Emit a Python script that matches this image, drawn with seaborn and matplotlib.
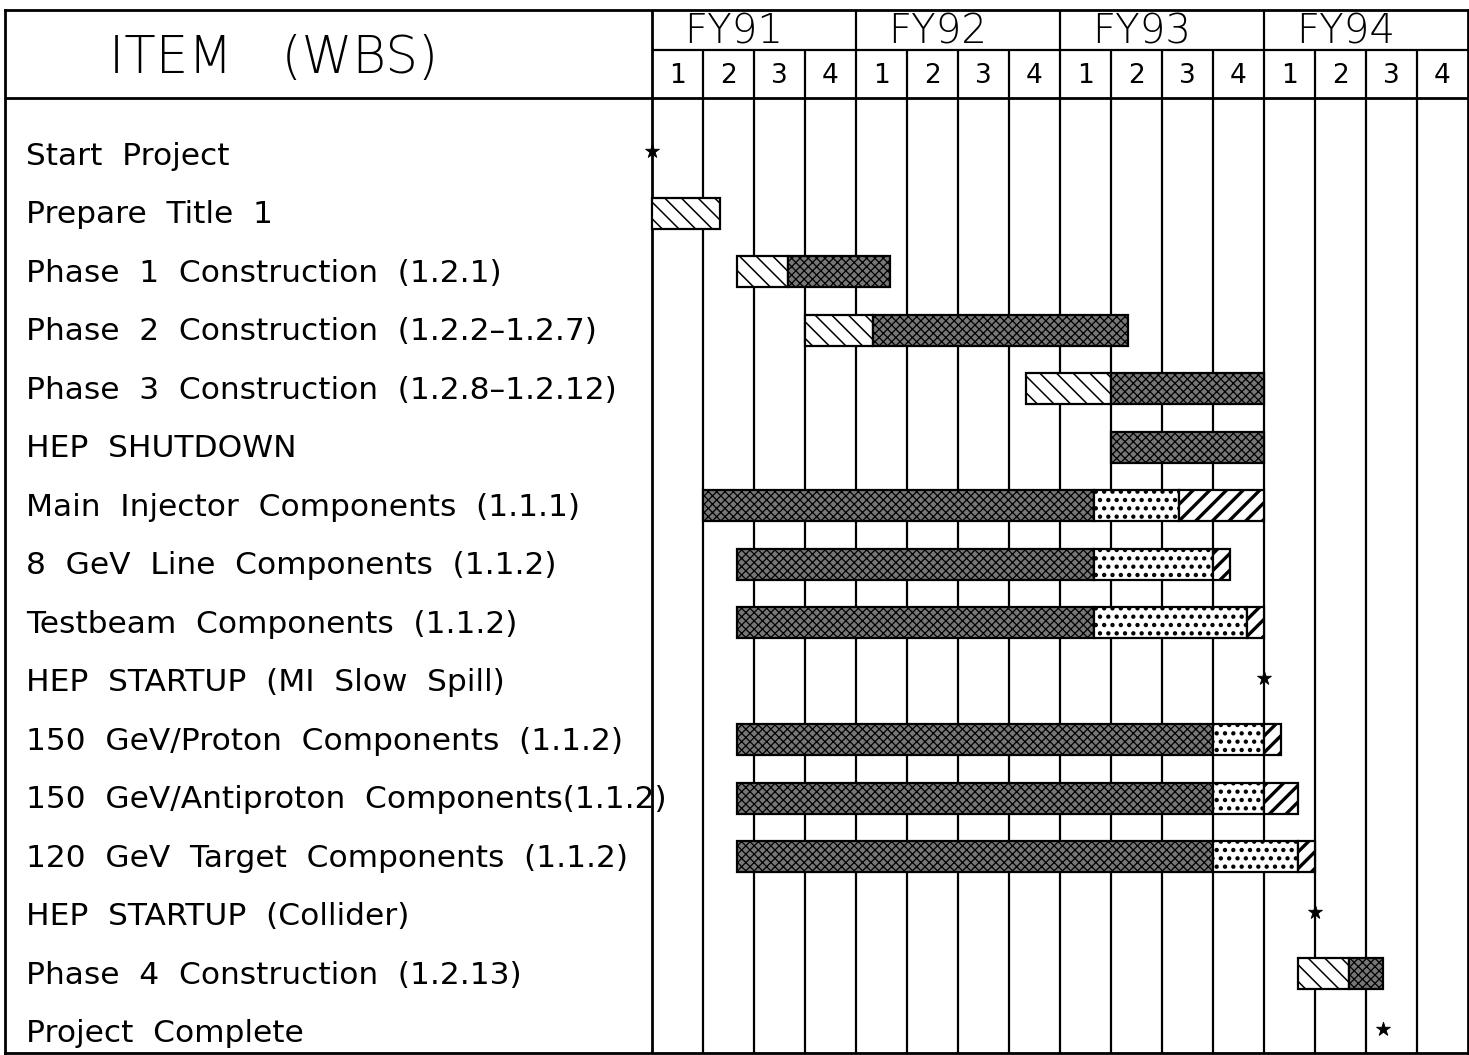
import numpy as np
import pandas as pd
import matplotlib
matplotlib.use("Agg")
import matplotlib.pyplot as plt
import seaborn as sns

# ---------------- data ----------------
items = [
    "Start  Project",
    "Prepare  Title  1",
    "Phase  1  Construction  (1.2.1)",
    "Phase  2  Construction  (1.2.2\u20131.2.7)",
    "Phase  3  Construction  (1.2.8\u20131.2.12)",
    "HEP  SHUTDOWN",
    "Main  Injector  Components  (1.1.1)",
    "8  GeV  Line  Components  (1.1.2)",
    "Testbeam  Components  (1.1.2)",
    "HEP  STARTUP  (MI  Slow  Spill)",
    "150  GeV/Proton  Components  (1.1.2)",
    "150  GeV/Antiproton  Components(1.1.2)",
    "120  GeV  Target  Components  (1.1.2)",
    "HEP  STARTUP  (Collider)",
    "Phase  4  Construction  (1.2.13)",
    "Project  Complete",
]
years = ["FY91", "FY92", "FY93", "FY94"]
quarter_labels = ["1", "2", "3", "4"]

# bar segments, in quarters from start of FY91
seg_item = [1, 2, 2, 3, 3, 4, 4, 5, 6, 6, 6, 7, 7, 7, 8, 8, 8,
            10, 10, 10, 11, 11, 11, 12, 12, 12, 14, 14]
seg_start = [0.0, 1.67, 2.67, 3.0, 4.33, 7.33, 9.0, 9.0, 1.0, 8.67, 10.33,
             1.67, 8.67, 11.0, 1.67, 8.67, 11.67, 1.67, 11.0, 12.0,
             1.67, 11.0, 12.0, 1.67, 11.0, 12.67, 12.67, 13.67]
seg_end = [1.33, 2.67, 4.67, 4.33, 9.33, 9.0, 12.0, 12.0, 8.67, 10.33, 12.0,
           8.67, 11.0, 11.33, 8.67, 11.67, 12.0, 11.0, 12.0, 12.33,
           11.0, 12.0, 12.67, 11.0, 12.67, 13.0, 13.67, 14.33]
seg_kind = ["design", "design", "build", "design", "build", "design", "build",
            "build", "build", "install", "test", "build", "install", "test",
            "build", "install", "test", "build", "install", "test",
            "build", "install", "test", "build", "install", "test",
            "design", "build"]

milestone_item = [0, 9, 13, 15]
milestone_q = [0.0, 12.0, 13.0, 14.33]

# ---------------- styling ----------------
sns.set_theme(style="white")
plt.rcParams["font.family"] = ["DejaVu Sans"]

kind_style = {
    "design":  dict(facecolor="white",   hatch="\\\\", hlw=1.1),
    "build":   dict(facecolor="#777777", hatch="xxxx", hlw=0.9),
    "install": dict(facecolor="white",   hatch="..",  hlw=1.9),
    "test":    dict(facecolor="white",   hatch="//", hlw=2.4),
}

W, H = 1469, 1055
fig = plt.figure(figsize=(W / 100, H / 100), dpi=100)
LEFT_PX, RIGHT_PX, TOP_PX, BOT_PX = 5, 1468, 10, 1053
ax = fig.add_axes([LEFT_PX / W, (H - BOT_PX) / H,
                   (RIGHT_PX - LEFT_PX) / W, (BOT_PX - TOP_PX) / H])

COL = 51.0       # pixels per quarter
DIV = 652.0      # pixel x of divider
ROW = 58.47      # pixels per row
Y0 = 155.0       # pixel y of first row


def px(p):
    return (p - DIV) / COL


def py(p):
    return (p - Y0) / ROW


ax.set_xlim(px(LEFT_PX), 16)
ax.set_ylim(py(BOT_PX), py(TOP_PX))
ax.set_xticks([])
ax.set_yticks([])
for s in ax.spines.values():
    s.set_visible(True)
    s.set_color("black")
    s.set_linewidth(2.0)

# grid lines
lw_grid = 1.6
for q in range(0, 16):
    top = py(TOP_PX) if q % 4 == 0 else py(50)
    ax.vlines(q, py(BOT_PX), top, color="black", lw=2.0 if q == 0 else lw_grid, zorder=1)
ax.hlines(py(98), px(LEFT_PX), 16, color="black", lw=2.0, zorder=1)
ax.hlines(py(50), 0, 16, color="black", lw=lw_grid, zorder=1)

# header text
ax.text(px(274), py(73), "ITEM   (WBS)", ha="center", va="baseline",
        fontsize=37, fontweight="light", color="black")
for i, yr in enumerate(years):
    ax.text(4 * i + 1.6, py(43), yr, ha="center", va="baseline",
            fontsize=29, fontweight="light", color="black")
    for j, ql in enumerate(quarter_labels):
        ax.text(4 * i + j + 0.5, py(83), ql, ha="center", va="baseline",
                fontsize=19, color="black")

# row labels
for i, lab in enumerate(items):
    ax.text(px(26), i + 10 / ROW, lab, ha="left", va="baseline",
            fontsize=22.5, color="black", zorder=5)

# bars
df = pd.DataFrame({"item": seg_item, "start": seg_start,
                   "end": seg_end, "kind": seg_kind})
df["dur"] = df["end"] - df["start"]
for kind, sub in df.groupby("kind", sort=False):
    st = kind_style[kind]
    plt.rcParams["hatch.linewidth"] = st["hlw"]
    bars = ax.barh(sub["item"], sub["dur"], left=sub["start"], height=0.53,
                   facecolor=st["facecolor"], edgecolor="black",
                   hatch=st["hatch"], linewidth=1.6, zorder=3)
    for b in bars:
        if hasattr(b, "set_hatch_linewidth"):
            b.set_hatch_linewidth(st["hlw"])

# milestones
ms = pd.DataFrame({"q": milestone_q,
                   "y": np.array(milestone_item, dtype=float) - 0.06})
sns.scatterplot(data=ms, x="q", y="y", marker="*", s=110, color="black",
                edgecolor="black", linewidth=0.6, ax=ax, zorder=6, legend=False)
ax.set_xlabel("")
ax.set_ylabel("")
ax.set_xlim(px(LEFT_PX), 16)
ax.set_ylim(py(BOT_PX), py(TOP_PX))

fig.savefig("out.png", dpi=100, facecolor="white")
